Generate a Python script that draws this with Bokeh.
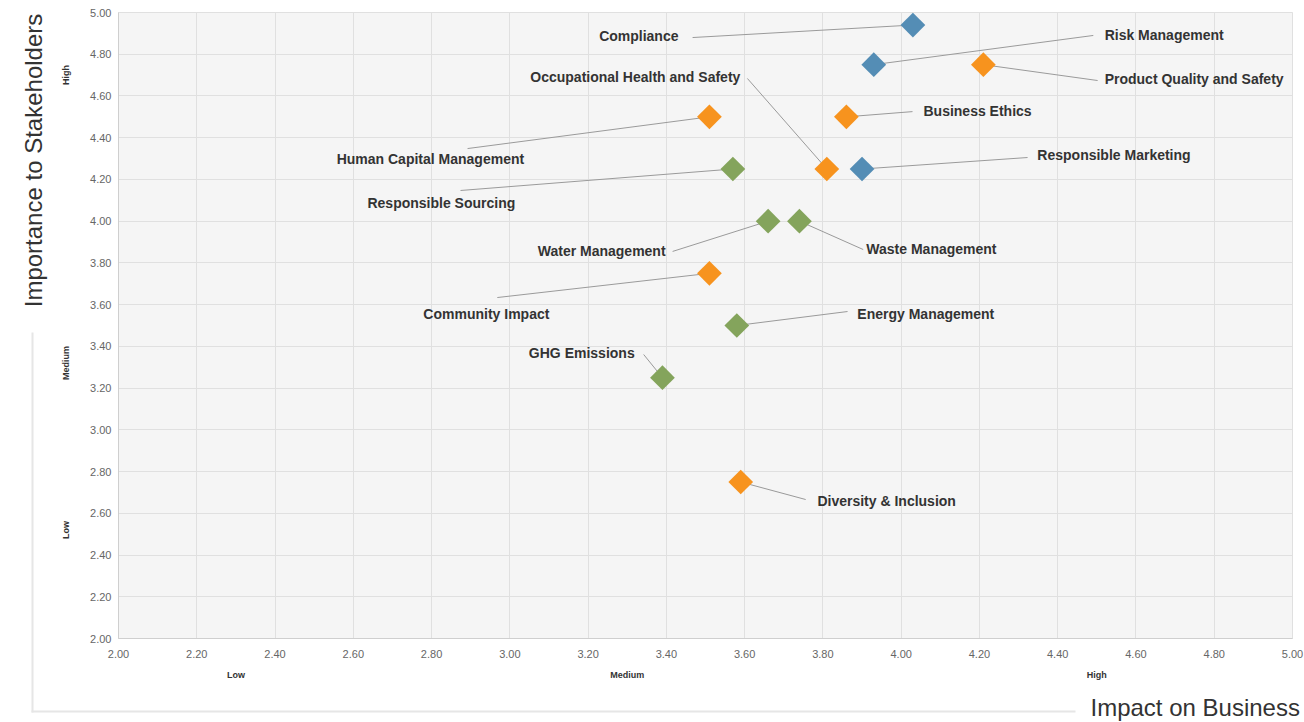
import math
from bokeh.plotting import figure
from bokeh.models import (ColumnDataSource, Label, BoxAnnotation, LinearAxis,
                          FixedTicker, Range1d, NumeralTickFormatter)
from bokeh.core.properties import value, field
from bokeh.embed import file_html
from bokeh.resources import INLINE

# ---------------- data ----------------
topics = ["Compliance", "Risk Management", "Product Quality and Safety", "Business Ethics",
          "Human Capital Management", "Occupational Health and Safety", "Responsible Marketing",
          "Responsible Sourcing", "Water Management", "Waste Management", "Community Impact",
          "Energy Management", "GHG Emissions", "Diversity & Inclusion"]
impact = [4.03, 3.93, 4.21, 3.86, 3.51, 3.81, 3.90, 3.57, 3.66, 3.74, 3.51, 3.58, 3.39, 3.59]
importance = [4.94, 4.75, 4.75, 4.50, 4.50, 4.25, 4.25, 4.25, 4.00, 4.00, 3.75, 3.50, 3.25, 2.75]
group = ["Governance", "Governance", "Social", "Social", "Social", "Social", "Governance",
         "Environmental", "Environmental", "Environmental", "Social", "Environmental",
         "Environmental", "Social"]

tick_values = [2.0, 2.2, 2.4, 2.6, 2.8, 3.0, 3.2, 3.4, 3.6, 3.8, 4.0, 4.2, 4.4, 4.6, 4.8, 5.0]
x_level_ticks = [2.3, 3.3, 4.5]
x_level_names = ["Low", "Medium", "High"]
y_level_ticks = [4.7, 3.32, 2.52]
y_level_names = ["High", "Medium", "Low"]
axis_min, axis_max = 2.0, 5.0

# ---------------- label layout (data units) ----------------
label_x = [3.431, 4.520, 4.520, 4.057, 2.797, 3.589, 4.348, 2.825, 3.398, 3.911, 2.940, 3.888, 3.319, 3.786]
label_y = [4.885, 4.890, 4.679, 4.530, 4.300, 4.693, 4.319, 4.085, 3.855, 3.869, 3.557, 3.557, 3.366, 2.657]
label_align = ["right", "left", "left", "left", "center", "right", "left", "center", "right",
               "left", "center", "left", "right", "left"]
line_x = [3.467, 4.491, 4.502, 4.029, 2.892, 3.607, 4.323, 2.874, 3.416, 3.903, 2.968, 3.863, 3.342, 3.756]
line_y = [4.880, 4.890, 4.674, 4.525, 4.348, 4.684, 4.305, 4.147, 3.855, 3.864, 3.634, 3.567, 3.361, 2.666]

palette = {"Governance": "#548db5", "Social": "#f7931e", "Environmental": "#84a45c"}
colors = [palette[g] for g in group]

src = ColumnDataSource(dict(topic=topics, x=impact, y=importance, color=colors,
                            lx=label_x, ly=label_y, align=label_align,
                            ex=line_x, ey=line_y))

# ---------------- page layout (pixels) ----------------
W, H = 1304, 722
PLOT_L, PLOT_R, PLOT_T, PLOT_B = 118, 1292, 12, 638
kx = (PLOT_R - PLOT_L) / (axis_max - axis_min)
ky = (PLOT_B - PLOT_T) / (axis_max - axis_min)
x_range = Range1d(axis_min - PLOT_L / kx, axis_min + (W - PLOT_L) / kx)
y_range = Range1d(axis_min - (H - PLOT_B) / ky, axis_min + PLOT_B / ky)

FONT = "Liberation Sans"

p = figure(width=W, height=H, x_range=x_range, y_range=y_range,
           output_backend="svg", toolbar_location=None,
           min_border_left=0, min_border_top=0, min_border_right=0, min_border_bottom=0)
p.min_border = 0
p.background_fill_color = "white"
p.border_fill_color = "white"
p.outline_line_color = None

# plot area background
p.add_layout(BoxAnnotation(left=axis_min, right=axis_max, bottom=axis_min, top=axis_max,
                           fill_color="#f5f5f5", fill_alpha=1, line_color="#dcdcdc",
                           line_width=1, level="image"))

for ax in (p.xaxis[0], p.yaxis[0]):
    ax.fixed_location = axis_min
    ax.bounds = (axis_min, axis_max)
    ax.ticker = FixedTicker(ticks=tick_values)
    ax.formatter = NumeralTickFormatter(format="0.00")
    ax.major_tick_out = 0
    ax.major_tick_in = 0
    ax.minor_tick_line_color = None
    ax.axis_line_color = "#cfcfcf"
    ax.major_label_text_font = FONT
    ax.major_label_text_font_size = "11px"
    ax.major_label_text_color = "#666666"
p.xaxis[0].major_label_standoff = 11
p.yaxis[0].major_label_standoff = 7

for g in (p.xgrid[0], p.ygrid[0]):
    g.ticker = FixedTicker(ticks=tick_values)
    g.bounds = (axis_min, axis_max)
    g.cross_bounds = (axis_min, axis_max)
    g.grid_line_color = "#e0e0e0"
    g.grid_line_width = 1

# level axes (Low / Medium / High)
xlev = LinearAxis(ticker=FixedTicker(ticks=x_level_ticks), fixed_location=axis_min,
                  major_label_overrides={t: n for t, n in zip(x_level_ticks, x_level_names)},
                  axis_line_color=None, major_tick_line_color=None, minor_tick_line_color=None,
                  major_label_text_font=FONT, major_label_text_font_size="9px",
                  major_label_text_font_style="bold", major_label_text_color="#333333",
                  major_label_standoff=25)
p.add_layout(xlev, "below")
ylev = LinearAxis(ticker=FixedTicker(ticks=y_level_ticks), fixed_location=axis_min,
                  major_label_overrides={t: n for t, n in zip(y_level_ticks, y_level_names)},
                  axis_line_color=None, major_tick_line_color=None, minor_tick_line_color=None,
                  major_label_text_font=FONT, major_label_text_font_size="9px",
                  major_label_text_font_style="bold", major_label_text_color="#333333",
                  major_label_orientation="parallel", major_label_standoff=41)
p.add_layout(ylev, "left")

# leader lines
p.segment(x0="x", y0="y", x1="ex", y1="ey", source=src, line_color="#9a9a9a", line_width=1)
# markers
p.scatter(x="x", y="y", source=src, marker="square", size=17.5, angle=math.pi / 4,
          fill_color="color", line_color=None)
# labels
p.text(x="lx", y="ly", text="topic", source=src, text_align=field("align"),
       text_baseline="middle", text_font=value(FONT), text_font_style="bold",
       text_font_size="14px", text_color="#333333")

# axis titles (screen units = page pixels measured from bottom-left)
p.add_layout(Label(x=33, y=H - 160, x_units="screen", y_units="screen",
                   text="Importance to Stakeholders", angle=math.pi / 2,
                   text_align="center", text_baseline="middle",
                   text_font=FONT, text_font_size="24px", text_color="#333333"))
p.add_layout(Label(x=1090, y=H - 707, x_units="screen", y_units="screen",
                   text="Impact on Business", text_align="left", text_baseline="middle",
                   text_font=FONT, text_font_size="24px", text_color="#333333"))
# bracket
p.add_layout(BoxAnnotation(left=31, right=33, bottom=H - 712, top=H - 332,
                           left_units="screen", right_units="screen",
                           bottom_units="screen", top_units="screen",
                           fill_color="#e6e6e6", fill_alpha=1, line_color=None))
p.add_layout(BoxAnnotation(left=31, right=1075, bottom=H - 712, top=H - 710,
                           left_units="screen", right_units="screen",
                           bottom_units="screen", top_units="screen",
                           fill_color="#e6e6e6", fill_alpha=1, line_color=None))

open("out.html", "w").write(file_html(p, INLINE))
